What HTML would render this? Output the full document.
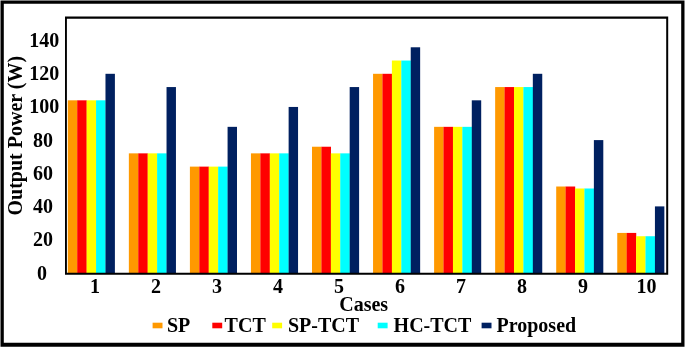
<!DOCTYPE html>
<html><head><meta charset="utf-8"><title>Output Power</title>
<style>
html,body{margin:0;padding:0;background:#fff;}
svg{display:block;}
text{font-family:"Liberation Serif","Times New Roman",serif;font-weight:bold;font-size:20px;fill:#000;}
</style></head><body>
<svg width="685" height="347" viewBox="0 0 685 347">
<rect x="0" y="0" width="685" height="347" fill="#fff"/>
<path fill="#000" fill-rule="evenodd" d="M0.5 0.5H684.5V346.75H0.5Z M3.8 3.8V342.7H681.2V3.8Z"/>
<rect x="67.80" y="100.32" width="9.57" height="173.68" fill="#FF9900"/>
<rect x="77.22" y="100.32" width="9.57" height="173.68" fill="#FF0000"/>
<rect x="86.64" y="100.32" width="9.57" height="173.68" fill="#FFFF00"/>
<rect x="96.06" y="100.32" width="9.57" height="173.68" fill="#00FFFF"/>
<rect x="105.48" y="73.80" width="9.42" height="200.20" fill="#002060"/>
<rect x="128.85" y="153.36" width="9.57" height="120.64" fill="#FF9900"/>
<rect x="138.27" y="153.36" width="9.57" height="120.64" fill="#FF0000"/>
<rect x="147.69" y="153.36" width="9.57" height="120.64" fill="#FFFF00"/>
<rect x="157.11" y="153.36" width="9.57" height="120.64" fill="#00FFFF"/>
<rect x="166.53" y="87.06" width="9.42" height="186.94" fill="#002060"/>
<rect x="189.90" y="166.62" width="9.57" height="107.38" fill="#FF9900"/>
<rect x="199.32" y="166.62" width="9.57" height="107.38" fill="#FF0000"/>
<rect x="208.74" y="166.62" width="9.57" height="107.38" fill="#FFFF00"/>
<rect x="218.16" y="166.62" width="9.57" height="107.38" fill="#00FFFF"/>
<rect x="227.58" y="126.84" width="9.42" height="147.16" fill="#002060"/>
<rect x="250.95" y="153.36" width="9.57" height="120.64" fill="#FF9900"/>
<rect x="260.37" y="153.36" width="9.57" height="120.64" fill="#FF0000"/>
<rect x="269.79" y="153.36" width="9.57" height="120.64" fill="#FFFF00"/>
<rect x="279.21" y="153.36" width="9.57" height="120.64" fill="#00FFFF"/>
<rect x="288.63" y="106.95" width="9.42" height="167.05" fill="#002060"/>
<rect x="312.00" y="146.73" width="9.57" height="127.27" fill="#FF9900"/>
<rect x="321.42" y="146.73" width="9.57" height="127.27" fill="#FF0000"/>
<rect x="330.84" y="153.36" width="9.57" height="120.64" fill="#FFFF00"/>
<rect x="340.26" y="153.36" width="9.57" height="120.64" fill="#00FFFF"/>
<rect x="349.68" y="87.06" width="9.42" height="186.94" fill="#002060"/>
<rect x="373.05" y="73.80" width="9.57" height="200.20" fill="#FF9900"/>
<rect x="382.47" y="73.80" width="9.57" height="200.20" fill="#FF0000"/>
<rect x="391.89" y="60.54" width="9.57" height="213.46" fill="#FFFF00"/>
<rect x="401.31" y="60.54" width="9.57" height="213.46" fill="#00FFFF"/>
<rect x="410.73" y="47.28" width="9.42" height="226.72" fill="#002060"/>
<rect x="434.10" y="126.84" width="9.57" height="147.16" fill="#FF9900"/>
<rect x="443.52" y="126.84" width="9.57" height="147.16" fill="#FF0000"/>
<rect x="452.94" y="126.84" width="9.57" height="147.16" fill="#FFFF00"/>
<rect x="462.36" y="126.84" width="9.57" height="147.16" fill="#00FFFF"/>
<rect x="471.78" y="100.32" width="9.42" height="173.68" fill="#002060"/>
<rect x="495.15" y="87.06" width="9.57" height="186.94" fill="#FF9900"/>
<rect x="504.57" y="87.06" width="9.57" height="186.94" fill="#FF0000"/>
<rect x="513.99" y="87.06" width="9.57" height="186.94" fill="#FFFF00"/>
<rect x="523.41" y="87.06" width="9.57" height="186.94" fill="#00FFFF"/>
<rect x="532.83" y="73.80" width="9.42" height="200.20" fill="#002060"/>
<rect x="556.20" y="186.51" width="9.57" height="87.49" fill="#FF9900"/>
<rect x="565.62" y="186.51" width="9.57" height="87.49" fill="#FF0000"/>
<rect x="575.04" y="188.50" width="9.57" height="85.50" fill="#FFFF00"/>
<rect x="584.46" y="188.50" width="9.57" height="85.50" fill="#00FFFF"/>
<rect x="593.88" y="140.10" width="9.42" height="133.90" fill="#002060"/>
<rect x="617.25" y="232.92" width="9.57" height="41.08" fill="#FF9900"/>
<rect x="626.67" y="232.92" width="9.57" height="41.08" fill="#FF0000"/>
<rect x="636.09" y="236.23" width="9.57" height="37.77" fill="#FFFF00"/>
<rect x="645.51" y="236.23" width="9.57" height="37.77" fill="#00FFFF"/>
<rect x="654.93" y="206.40" width="9.42" height="67.60" fill="#002060"/>
<path fill="#000" fill-rule="evenodd" d="M65 16.6H668.2V274.8H65Z M66.9 18.8V272.8H666.2V18.8Z"/>
<text x="42.10" y="280" text-anchor="middle">0</text>
<text x="43.00" y="246" text-anchor="middle">20</text>
<text x="43.00" y="213" text-anchor="middle">40</text>
<text x="43.00" y="180" text-anchor="middle">60</text>
<text x="43.00" y="147" text-anchor="middle">80</text>
<text x="44.20" y="113" text-anchor="middle">100</text>
<text x="44.20" y="80" text-anchor="middle">120</text>
<text x="44.20" y="47" text-anchor="middle">140</text>
<text x="95.00" y="292.5" text-anchor="middle">1</text>
<text x="156.00" y="292.5" text-anchor="middle">2</text>
<text x="217.00" y="292.5" text-anchor="middle">3</text>
<text x="278.00" y="292.5" text-anchor="middle">4</text>
<text x="339.00" y="292.5" text-anchor="middle">5</text>
<text x="400.00" y="292.5" text-anchor="middle">6</text>
<text x="461.00" y="292.5" text-anchor="middle">7</text>
<text x="522.00" y="292.5" text-anchor="middle">8</text>
<text x="583.00" y="292.5" text-anchor="middle">9</text>
<text x="646.50" y="292.5" text-anchor="middle">10</text>
<text x="339.2" y="311.2">Cases</text>
<text transform="translate(21.9,215.5) rotate(-90)" x="0" y="0">Output Power (W)</text>
<rect x="152.6" y="322.7" width="9.9" height="5.6" fill="#FF9900"/>
<text x="167.0" y="331.6">SP</text>
<rect x="212.3" y="322.7" width="9.9" height="5.6" fill="#FF0000"/>
<text x="224.6" y="331.6">TCT</text>
<rect x="272.2" y="322.7" width="9.9" height="5.6" fill="#FFFF00"/>
<text x="288.0" y="331.6">SP-TCT</text>
<rect x="377.7" y="322.7" width="9.9" height="5.6" fill="#00FFFF"/>
<text x="393.6" y="331.6">HC-TCT</text>
<rect x="481.6" y="322.7" width="9.9" height="5.6" fill="#002060"/>
<text x="496.5" y="331.6">Proposed</text>
</svg>
</body></html>
